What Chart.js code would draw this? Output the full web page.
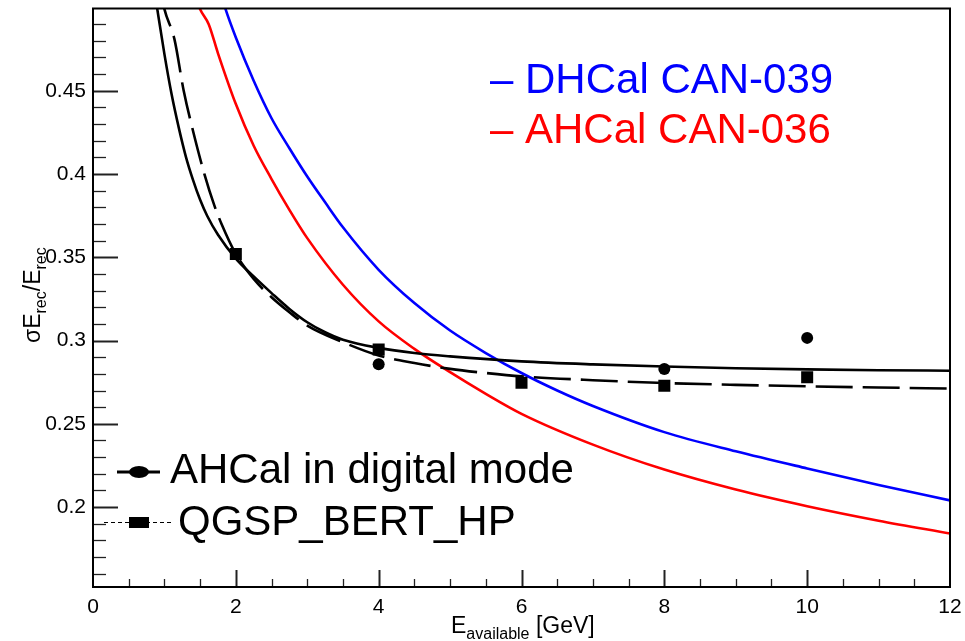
<!DOCTYPE html>
<html>
<head>
<meta charset="utf-8">
<script src="https://cdn.jsdelivr.net/npm/chart.js@4.4.0/dist/chart.umd.min.js"></script>
<style>
  html, body { margin: 0; padding: 0; background: #fff; }
  #wrap { width: 965px; height: 641px; }
</style>
</head>
<body>
<div id="wrap"><canvas id="resolutionChart"></canvas></div>
<script>
// measured points
const digitalE = [4, 8, 10];
const digitalRes = [0.2857, 0.2829, 0.3016];
const qgspE = [2, 4, 6, 8, 10];
const qgspRes = [0.352, 0.2946, 0.2747, 0.2729, 0.2779];

// fit curve to the digital mode points (solid black)
const digitalFitE = [0.85, 0.9, 1.0, 1.1, 1.2, 1.3, 1.4, 1.5, 1.6, 1.75, 2.0, 2.25, 2.5, 2.75, 3.0, 3.25, 3.5, 4.0, 4.5, 5.0, 6.0, 7.0, 8.0, 9.0, 10.0, 11.0, 12.0];
const digitalFitRes = [0.513, 0.499, 0.472, 0.448, 0.428, 0.4105, 0.3965, 0.3845, 0.3748, 0.3635, 0.3492, 0.3385, 0.3285, 0.319, 0.311, 0.305, 0.3005, 0.2956, 0.2925, 0.2905, 0.2875, 0.2857, 0.2844, 0.2834, 0.2827, 0.2822, 0.2819];

// fit curve to the simulation points (dashed black)
const qgspFitE = [0.95, 1.0, 1.14, 1.27, 1.4, 1.56, 1.7, 1.8, 2.0, 2.25, 2.5, 2.75, 3.0, 3.5, 4.0, 4.5, 5.0, 5.5, 6.0, 7.0, 8.0, 9.0, 10.0, 11.0, 12.0];
const qgspFitRes = [0.51, 0.499, 0.481, 0.45, 0.426, 0.4, 0.381, 0.37, 0.352, 0.337, 0.326, 0.317, 0.309, 0.299, 0.291, 0.2865, 0.283, 0.2805, 0.2785, 0.2762, 0.2745, 0.2734, 0.2725, 0.2718, 0.2712];

// DHCal CAN-039 (blue)
const dhcalE = [1.8, 1.856, 2.0, 2.25, 2.5, 2.75, 3.0, 3.25, 3.5, 4.0, 4.5, 5.0, 5.5, 6.0, 6.5, 7.0, 8.0, 9.0, 10.0, 11.0, 12.0];
const dhcalRes = [0.507, 0.499, 0.482, 0.456, 0.4335, 0.4155, 0.3985, 0.383, 0.368, 0.3425, 0.3225, 0.306, 0.2925, 0.2805, 0.27, 0.2607, 0.245, 0.2335, 0.2232, 0.2133, 0.204];

// AHCal CAN-036 (red)
const ahcalE = [1.45, 1.5, 1.62, 1.75, 2.0, 2.25, 2.5, 2.75, 3.0, 3.5, 4.0, 4.5, 5.0, 5.5, 6.0, 7.0, 8.0, 9.0, 10.0, 11.0, 12.0];
const ahcalRes = [0.505, 0.499, 0.49, 0.4725, 0.442, 0.417, 0.397, 0.3785, 0.3615, 0.3335, 0.3115, 0.295, 0.281, 0.268, 0.256, 0.2375, 0.2225, 0.2105, 0.2005, 0.1918, 0.1841];

const FONT = '"Liberation Sans", Arial, Helvetica, sans-serif';

function toPoints(xs, ys) {
  return xs.map((x, i) => ({ x: x, y: ys[i] }));
}

function fitLine(label, xs, ys, color, dash) {
  return {
    label,
    data: toPoints(xs, ys),
    showLine: true,
    borderColor: color,
    borderWidth: 2.6,
    borderDash: dash || [],
    pointRadius: 0,
    cubicInterpolationMode: "monotone",
    order: 2,
  };
}

// ticks pointing into the frame, like the original
const frameTicks = {
  id: "frameTicks",
  afterDatasetsDraw(chart) {
    const { ctx, chartArea: a, scales } = chart;
    const x = scales.x;
    const y = scales.y;
    ctx.save();
    ctx.strokeStyle = "#222";
    for (let i = 16; i <= 49; i++) {
      const py = Math.round(y.getPixelForValue(i / 100)) + 0.5;
      const len = i % 5 === 0 ? 25 : 13;
      ctx.lineWidth = i % 5 === 0 ? 2 : 1.3;
      ctx.beginPath();
      ctx.moveTo(a.left, py);
      ctx.lineTo(a.left + len, py);
      ctx.stroke();
    }
    for (let i = 1; i < 24; i++) {
      const px = Math.round(x.getPixelForValue(i * 0.5)) + 0.5;
      const len = i % 4 === 0 ? 17 : 8;
      ctx.lineWidth = i % 4 === 0 ? 2 : 1.3;
      ctx.beginPath();
      ctx.moveTo(px, a.bottom);
      ctx.lineTo(px, a.bottom - len);
      ctx.stroke();
    }
    ctx.lineWidth = 2;
    ctx.strokeStyle = "#000";
    ctx.strokeRect(a.left, a.top, a.right - a.left, a.bottom - a.top);
    ctx.restore();
  },
};

// axis titles with subscripts
function drawPieces(ctx, pieces, x, y) {
  let cx = x;
  for (const p of pieces) {
    ctx.font = p.size + "px " + FONT;
    ctx.fillText(p.text, cx, y + (p.shift || 0));
    cx += ctx.measureText(p.text).width;
  }
}

const axisTitles = {
  id: "axisTitles",
  afterDraw(chart) {
    const ctx = chart.ctx;
    ctx.save();
    ctx.fillStyle = "#000";
    ctx.textBaseline = "alphabetic";
    drawPieces(ctx, [
      { text: "E", size: 23 },
      { text: "available", size: 16, shift: 6 },
      { text: " [GeV]", size: 23 },
    ], 451, 633);

    ctx.translate(40, 343);
    ctx.rotate(-Math.PI / 2);
    drawPieces(ctx, [
      { text: "\u03c3E", size: 23 },
      { text: "rec", size: 16, shift: 6 },
      { text: "/E", size: 23 },
      { text: "rec", size: 16, shift: 6 },
    ], 0, 0);
    ctx.restore();
  },
};

// the two legend boxes drawn inside the frame
const rootLegends = {
  id: "rootLegends",
  afterDraw(chart) {
    const ctx = chart.ctx;
    const ds = chart.data.datasets;
    ctx.save();
    ctx.textBaseline = "alphabetic";
    ctx.font = "42px " + FONT;
    ctx.fillStyle = ds[2].borderColor;
    ctx.fillText("\u2013 " + ds[2].label, 490, 93);
    ctx.fillStyle = ds[3].borderColor;
    ctx.fillText("\u2013 " + ds[3].label, 490, 143);

    // AHCal in digital mode
    ctx.strokeStyle = "#000";
    ctx.fillStyle = "#000";
    ctx.lineWidth = 3;
    ctx.beginPath();
    ctx.moveTo(117, 472);
    ctx.lineTo(160, 472);
    ctx.stroke();
    ctx.beginPath();
    ctx.ellipse(139, 472, 10, 6, 0, 0, Math.PI * 2);
    ctx.fill();
    ctx.fillText(ds[4].label, 170, 483);

    // QGSP_BERT_HP
    ctx.lineWidth = 1;
    ctx.setLineDash([4, 3]);
    ctx.beginPath();
    ctx.moveTo(104, 522.5);
    ctx.lineTo(172, 522.5);
    ctx.stroke();
    ctx.setLineDash([]);
    ctx.fillRect(129, 517, 20, 11);
    ctx.fillText(ds[5].label, 178, 535);
    ctx.restore();
  },
};

const datasets = [
  fitLine("digital fit", digitalFitE, digitalFitRes, "#000000"),
  fitLine("QGSP fit", qgspFitE, qgspFitRes, "#000000", [37, 10]),
  fitLine("DHCal CAN-039", dhcalE, dhcalRes, "#0000ff"),
  fitLine("AHCal CAN-036", ahcalE, ahcalRes, "#ff0000"),
  {
    label: "AHCal in digital mode",
    data: toPoints(digitalE, digitalRes),
    pointStyle: "circle",
    pointRadius: 6,
    backgroundColor: "#000",
    borderColor: "#000",
    borderWidth: 0,
    showLine: false,
    order: 0,
  },
  {
    label: "QGSP_BERT_HP",
    data: toPoints(qgspE, qgspRes),
    pointStyle: "rect",
    pointRadius: 8.5,
    backgroundColor: "#000",
    borderColor: "#000",
    borderWidth: 0,
    showLine: false,
    order: 0,
  },
];

const ctx = document.getElementById("resolutionChart").getContext("2d");
new Chart(ctx, {
  type: "scatter",
  data: { datasets },
  options: {
    responsive: true,
    maintainAspectRatio: false,
    animation: false,
    layout: { padding: { top: 5, right: 15, left: 0, bottom: 0 } },
    plugins: { legend: { display: false }, tooltip: { enabled: false } },
    scales: {
      x: {
        type: "linear",
        min: 0,
        max: 12,
        grid: { display: false, drawTicks: false },
        border: { display: false },
        ticks: {
          stepSize: 2,
          padding: 8,
          color: "#000",
          font: { family: FONT, size: 21 },
        },
        afterFit: (scale) => {
          scale.height = 54;
          scale.paddingLeft = 0;
          scale.paddingRight = 0;
        },
      },
      y: {
        type: "linear",
        min: 0.152,
        max: 0.4994,
        grid: { display: false, drawTicks: false },
        border: { display: false },
        ticks: {
          stepSize: 0.05,
          autoSkip: false,
          padding: 7,
          color: "#000",
          font: { family: FONT, size: 21 },
          callback: (v) => {
            const k = Math.round(v * 20);
            if (Math.abs(v * 20 - k) > 1e-6) return "";
            return String(+(k / 20).toFixed(2));
          },
        },
        afterFit: (scale) => {
          scale.width = 93;
          scale.paddingTop = 0;
          scale.paddingBottom = 0;
        },
      },
    },
  },
  plugins: [frameTicks, axisTitles, rootLegends],
});
</script>
</body>
</html>
